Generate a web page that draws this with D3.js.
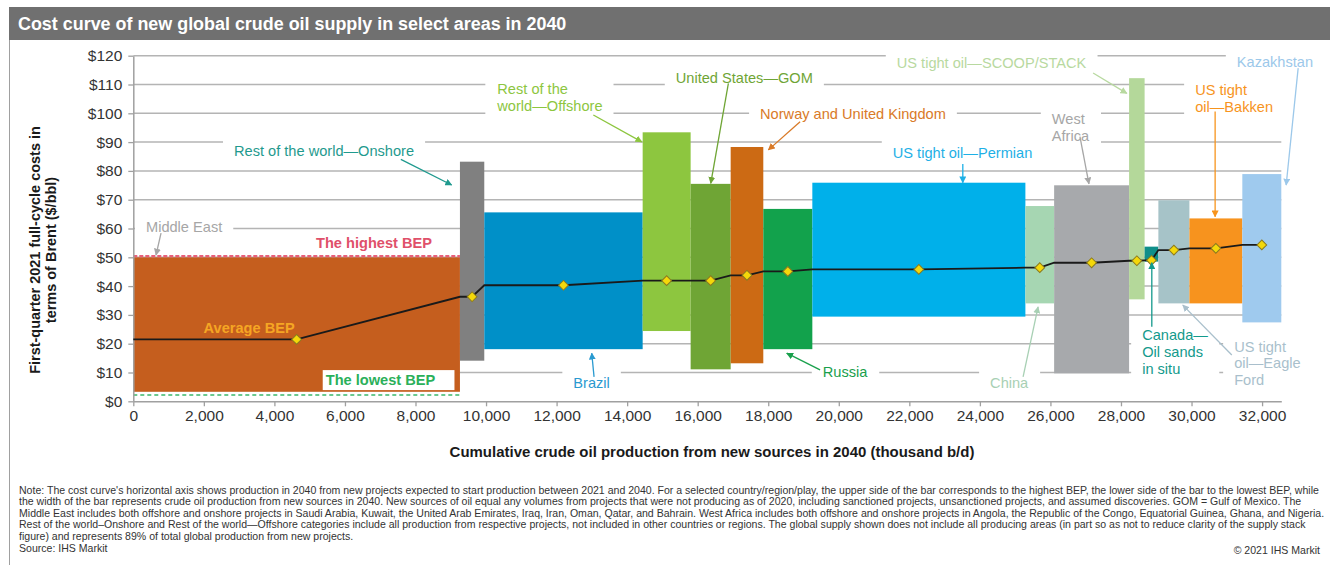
<!DOCTYPE html>
<html><head><meta charset="utf-8">
<script src="https://cdn.jsdelivr.net/npm/d3@7"></script>
<style>
body{margin:0;background:#fff}
svg{display:block;font-family:"Liberation Sans",Arial,Helvetica,sans-serif}
</style>
</head><body>
<svg id="c" width="1330" height="565"></svg>
<script>
// ---------------- DATA ----------------
const areas = ["Middle East","Rest of the world—Onshore","Brazil","Rest of the world—Offshore",
  "United States—GOM","Norway and United Kingdom","Russia","US tight oil—Permian","China",
  "West Africa","US tight oil—SCOOP/STACK","Canada—Oil sands in situ","US tight oil—Eagle Ford",
  "US tight oil—Bakken","Kazakhstan"];
// production from new sources in 2040 (thousand b/d) = bar widths
const production = [9260, 690, 4490, 1360, 1135, 925, 1390, 6040, 815, 2125, 440, 390, 880, 1500, 1105];
// lowest / highest breakeven price ($/bbl)
const lowBEP  = [3.3, 14.1, 18.1, 24.4, 11.1, 13.2, 18.1, 29.4, 34.0, 9.7, 35.4, 48.5, 34.0, 34.0, 27.4];
const highBEP = [50.0, 83.2, 65.6, 93.4, 75.5, 88.3, 66.8, 75.9, 67.8, 75.0, 112.2, 53.7, 69.8, 63.5, 78.9];
// cumulative average BEP ($/bbl)
const avgBEP  = [21.5, 36.3, 40.3, 41.9, 41.9, 43.75, 45.1, 45.8, 46.4, 48.1, 48.8, 48.95, 52.5, 53.1, 54.3];
const highestBEPRef = 50.4;
const lowestBEPRef = 2.2;
const yTicks = [0,10,20,30,40,50,60,70,80,90,100,110,120];
const xTicks = [0,2000,4000,6000,8000,10000,12000,14000,16000,18000,20000,22000,24000,26000,28000,30000,32000];

const titleText = "Cost curve of new global crude oil supply in select areas in 2040";
const xTitle = "Cumulative crude oil production from new sources in 2040 (thousand  b/d)";
const yTitle = ["First-quarter  2021  full-cycle costs  in", "terms of Brent ($/bbl)"];
const notes = [
 "Note: The  cost curve's horizontal axis shows production in 2040 from new projects expected to start production between  2021  and 2040.  For a selected country/region/play, the upper side of the bar corresponds to the highest BEP,  the lower  side of the bar to the lowest BEP, while",
 "the width of the bar represents crude oil production from new sources in 2040.  New sources of oil equal any volumes from projects that were not producing  as of 2020,  including sanctioned projects,  unsanctioned projects,  and assumed discoveries.  GOM = Gulf of Mexico. The",
 "Middle  East includes both offshore and onshore projects in Saudi Arabia,  Kuwait,  the United Arab Emirates,  Iraq,  Iran,  Oman,  Qatar,  and Bahrain.  West Africa includes both offshore and onshore projects  in Angola,   the Republic of the Congo,  Equatorial Guinea,  Ghana,  and Nigeria.",
 "Rest of the world–Onshore  and  Rest of the world—Offshore categories include all production  from respective projects,  not included in other countries or regions.  The global  supply shown does not include  all producing areas  (in part so as not to reduce clarity of the supply stack",
 "figure) and represents 89% of total global production  from new projects."
];
const sourceText = "Source:  IHS Markit";
const copyText = "© 2021  IHS Markit";

// annotation labels (positions in data units: thousand b/d, $/bbl)
const labels = [
 {t:["Middle East"], c:"#a6a6a6", x:360, y:60.4, a:[786,58.4,644,50.8], box:true},
 {t:["The highest  BEP"], c:"#e0506a", x:5180, y:55.1, bold:true},
 {t:["Average BEP"], c:"#f5a623", x:1993, y:25.6, bold:true},
 {t:["The lowest  BEP"], c:"#2bb05a", x:5455, y:7.4, bold:true, lowbox:true},
 {t:["Rest of the world—Onshore"], c:"#1f9a8e", x:2855, y:86.9, a:[7585,84.0,9025,75.1], box:true},
 {t:["Rest of the","world—Offshore"], c:"#8dc63f", x:10320, y:108.4, a:[13042,99.4,14415,90.1], box:true},
 {t:["United States—GOM"], c:"#6fa535", x:15379, y:112.2, a:[16870,110.4,16371,75.7], box:true},
 {t:["Norway  and United Kingdom"], c:"#d97a28", x:17769, y:99.8, a:[18903,97.1,18004,87.3], box:true},
 {t:["Brazil"], c:"#2a9ad0", x:12475, y:6.25, a:[13062,8.5,12997,16.7], box:true},
 {t:["Russia"], c:"#19a04c", x:19546, y:10.3, a:[19469,10.9,18525,16.7], box:true},
 {t:["US tight oil—Permian"], c:"#1eb0e6", x:21531, y:86.1, a:[23516,82.4,23516,75.9], box:true},
 {t:["China"], c:"#a8d0b4", x:24290, y:6.25, a:[25225,8.5,25650,32.8], box:true},
 {t:["West","Africa"], c:"#a6a6a6", x:26039, y:98.0, a:[26837,91.9,27092,75.5], box:true},
 {t:["US tight oil—SCOOP/STACK"], c:"#b8d9a0", x:21644, y:117.6, a:[27210,114,28166,106.9], box:true},
 {t:["Kazakhstan"], c:"#9cc8ea", x:31284, y:117.9, a:[33023,115.7,32683,75.1], box:true},
 {t:["US tight","oil—Bakken"], c:"#f7941d", x:30102, y:108.1, a:[30669,100.6,30669,64.1], box:true},
 {t:["Canada—","Oil sands","in situ"], c:"#139a8c", x:28600, y:23.0, a:[28874,25.9,28874,48.1], box:true},
 {t:["US tight","oil—Eagle","Ford"], c:"#a9bfcc", x:31208, y:19.0, a:[31142,16.1,29753,33.4], box:true}
];

const barColors = ["#c55e1e","#808080","#0090c8","#8dc63f","#6fa535","#cc6a14","#12a24c","#00b0ea",
  "#a6d6b2","#a7a9ac","#b4d89a","#0f8f8a","#a6c3c8","#f7931e","#9fcaee"];

// ---------------- CHART ----------------
const svg = d3.select("#c");
const total = d3.sum(production);
const x = d3.scaleLinear().domain([0, total]).range([133.3, 1281.3]);
const y = d3.scaleLinear().domain([0, 120]).range([401.3, 55.7]);
const starts = production.map((d,i)=> d3.sum(production.slice(0,i)));

function fitText(sel, target){
  const w = sel.node().getComputedTextLength();
  const fs = parseFloat(sel.attr("font-size"));
  sel.attr("font-size", fs*target/w);
  return fs*target/w;
}

// title bar
svg.append("rect").attr("x",9).attr("y",7).attr("width",1321).attr("height",33).attr("fill","#707070");
const tt = svg.append("text").attr("x",18).attr("y",29.5).attr("fill","#fff").attr("font-weight","bold")
  .attr("font-size",16).text(titleText);
fitText(tt, 549);
svg.append("line").attr("x1",9.5).attr("x2",9.5).attr("y1",40).attr("y2",565).attr("stroke","#a0a0a0").attr("stroke-width",1);

// gridlines
svg.append("g").selectAll("line").data(yTicks.filter(d=>d>0)).join("line")
  .attr("x1",x(0)).attr("x2",x(total)).attr("y1",d=>y(d)).attr("y2",d=>y(d))
  .attr("stroke","#b4b4b4").attr("stroke-width",1.5);

// bars
svg.append("g").selectAll("rect").data(areas).join("rect")
  .attr("x",(d,i)=>x(starts[i])).attr("width",(d,i)=>x(starts[i]+production[i])-x(starts[i]))
  .attr("y",(d,i)=>y(highBEP[i])).attr("height",(d,i)=>y(lowBEP[i])-y(highBEP[i]))
  .attr("fill",(d,i)=>barColors[i]);

// reference dashed lines (Middle East)
svg.append("line").attr("x1",x(0)).attr("x2",x(production[0])).attr("y1",y(highestBEPRef)).attr("y2",y(highestBEPRef))
  .attr("stroke","#e8607a").attr("stroke-width",2.2).attr("stroke-dasharray","4,2");
svg.append("line").attr("x1",x(0)).attr("x2",x(production[0])).attr("y1",y(lowestBEPRef)).attr("y2",y(lowestBEPRef))
  .attr("stroke","#3cb86a").attr("stroke-width",1.5).attr("stroke-dasharray","4,3");

// axes
const yAxis = svg.append("g").attr("transform",`translate(${x(0)},0)`)
  .call(d3.axisLeft(y).tickValues(yTicks).tickFormat(d=>"$"+d).tickSize(5).tickSizeOuter(0).tickPadding(6));
const xAxis = svg.append("g").attr("transform",`translate(0,${y(0)})`)
  .call(d3.axisBottom(x).tickValues(xTicks).tickFormat(d3.format(",")).tickSize(5).tickSizeOuter(0).tickPadding(4));
[yAxis,xAxis].forEach(g=>{
  g.select(".domain").attr("stroke","#a0a0a0").attr("stroke-width",1.5);
  g.selectAll(".tick line").attr("stroke","#a0a0a0").attr("stroke-width",1.3);
  g.selectAll("text").attr("font-size",15.5).attr("fill","#333").attr("font-family","Liberation Sans, Arial, sans-serif");
});

// average BEP line
const linePts = [[0, avgBEP[0]]];
areas.forEach((d,i)=>{
  if(i>0) linePts.push([starts[i], avgBEP[i]]);
  linePts.push([starts[i]+production[i]/2, avgBEP[i]]);
});
svg.append("path").datum(linePts)
  .attr("d", d3.line().x(d=>x(d[0])).y(d=>y(d[1])))
  .attr("fill","none").attr("stroke","#1a1a1a").attr("stroke-width",1.8);
svg.append("g").selectAll("path").data(areas).join("path")
  .attr("d", d3.symbol().type(d3.symbolSquare).size(48))
  .attr("transform",(d,i)=>`translate(${x(starts[i]+production[i]/2)},${y(avgBEP[i])}) rotate(45)`)
  .attr("fill","#f4d80a").attr("stroke","#8a7a20").attr("stroke-width",1);

// annotation layer
const defs = svg.append("defs");
const ann = svg.append("g");
const LH = 16.7, FS = 14.6;
labels.forEach((L,k)=>{
  const g = ann.append("g");
  const txt = g.append("text").attr("font-size",FS).attr("fill",L.c)
    .attr("font-weight", L.bold ? "bold" : "normal");
  L.t.forEach((s,j)=>{
    txt.append("tspan").attr("x",x(L.x)).attr("y",y(L.y)+j*LH).attr("dy","0.35em").text(s);
  });
  const bb = txt.node().getBBox();
  if(L.box){
    g.insert("rect","text").attr("x",bb.x-11).attr("y",bb.y-4.5).attr("width",bb.width+22).attr("height",bb.height+9).attr("fill","#fff");
  }
  if(L.lowbox){
    g.insert("rect","text").attr("x",bb.x-3).attr("y",bb.y-2).attr("width",bb.width+22).attr("height",bb.height+4).attr("fill","#fff");
  }
  if(L.a){
    const id = "ah"+k;
    defs.append("marker").attr("id",id).attr("viewBox","0 0 10 10").attr("refX",9).attr("refY",5)
      .attr("markerWidth",7).attr("markerHeight",7).attr("markerUnits","userSpaceOnUse").attr("orient","auto")
      .append("path").attr("d","M0,0L10,5L0,10Z").attr("fill",L.c);
    g.append("line").attr("x1",x(L.a[0])).attr("y1",y(L.a[1])).attr("x2",x(L.a[2])).attr("y2",y(L.a[3]))
      .attr("stroke",L.c).attr("stroke-width",1.3).attr("marker-end",`url(#${id})`);
  }
});

// axis titles
const xt = svg.append("text").attr("x",712).attr("y",452).attr("dy","0.35em").attr("text-anchor","middle")
  .attr("font-weight","bold").attr("font-size",15).attr("fill","#1a1a1a").text(xTitle);
fitText(xt, 525);
const ytg = svg.append("g").attr("transform","translate(0,250)");
let yfs = null;
yTitle.forEach((s,j)=>{
  const t = ytg.append("text").attr("transform",`translate(${35+j*15.5},0) rotate(-90)`).attr("dy","0.35em")
    .attr("text-anchor","middle").attr("font-weight","bold").attr("font-size",14).attr("fill","#1a1a1a").text(s);
  if(j===0) yfs = fitText(t, 248); else t.attr("font-size", yfs);
});

// notes
let nfs = null;
notes.forEach((s,j)=>{
  const t = svg.append("text").attr("x",19).attr("y",490+j*11.5).attr("dy","0.35em")
    .attr("font-size",10).attr("fill","#333").text(s);
  if(j===0) nfs = fitText(t, 1301); else t.attr("font-size", nfs);
});
svg.append("text").attr("x",19).attr("y",548).attr("dy","0.35em").attr("font-size",nfs).attr("fill","#333").text(sourceText);
svg.append("text").attr("x",1320).attr("y",550.5).attr("dy","0.35em").attr("text-anchor","end").attr("font-size",nfs).attr("fill","#333").text(copyText);
</script>
</body></html>
